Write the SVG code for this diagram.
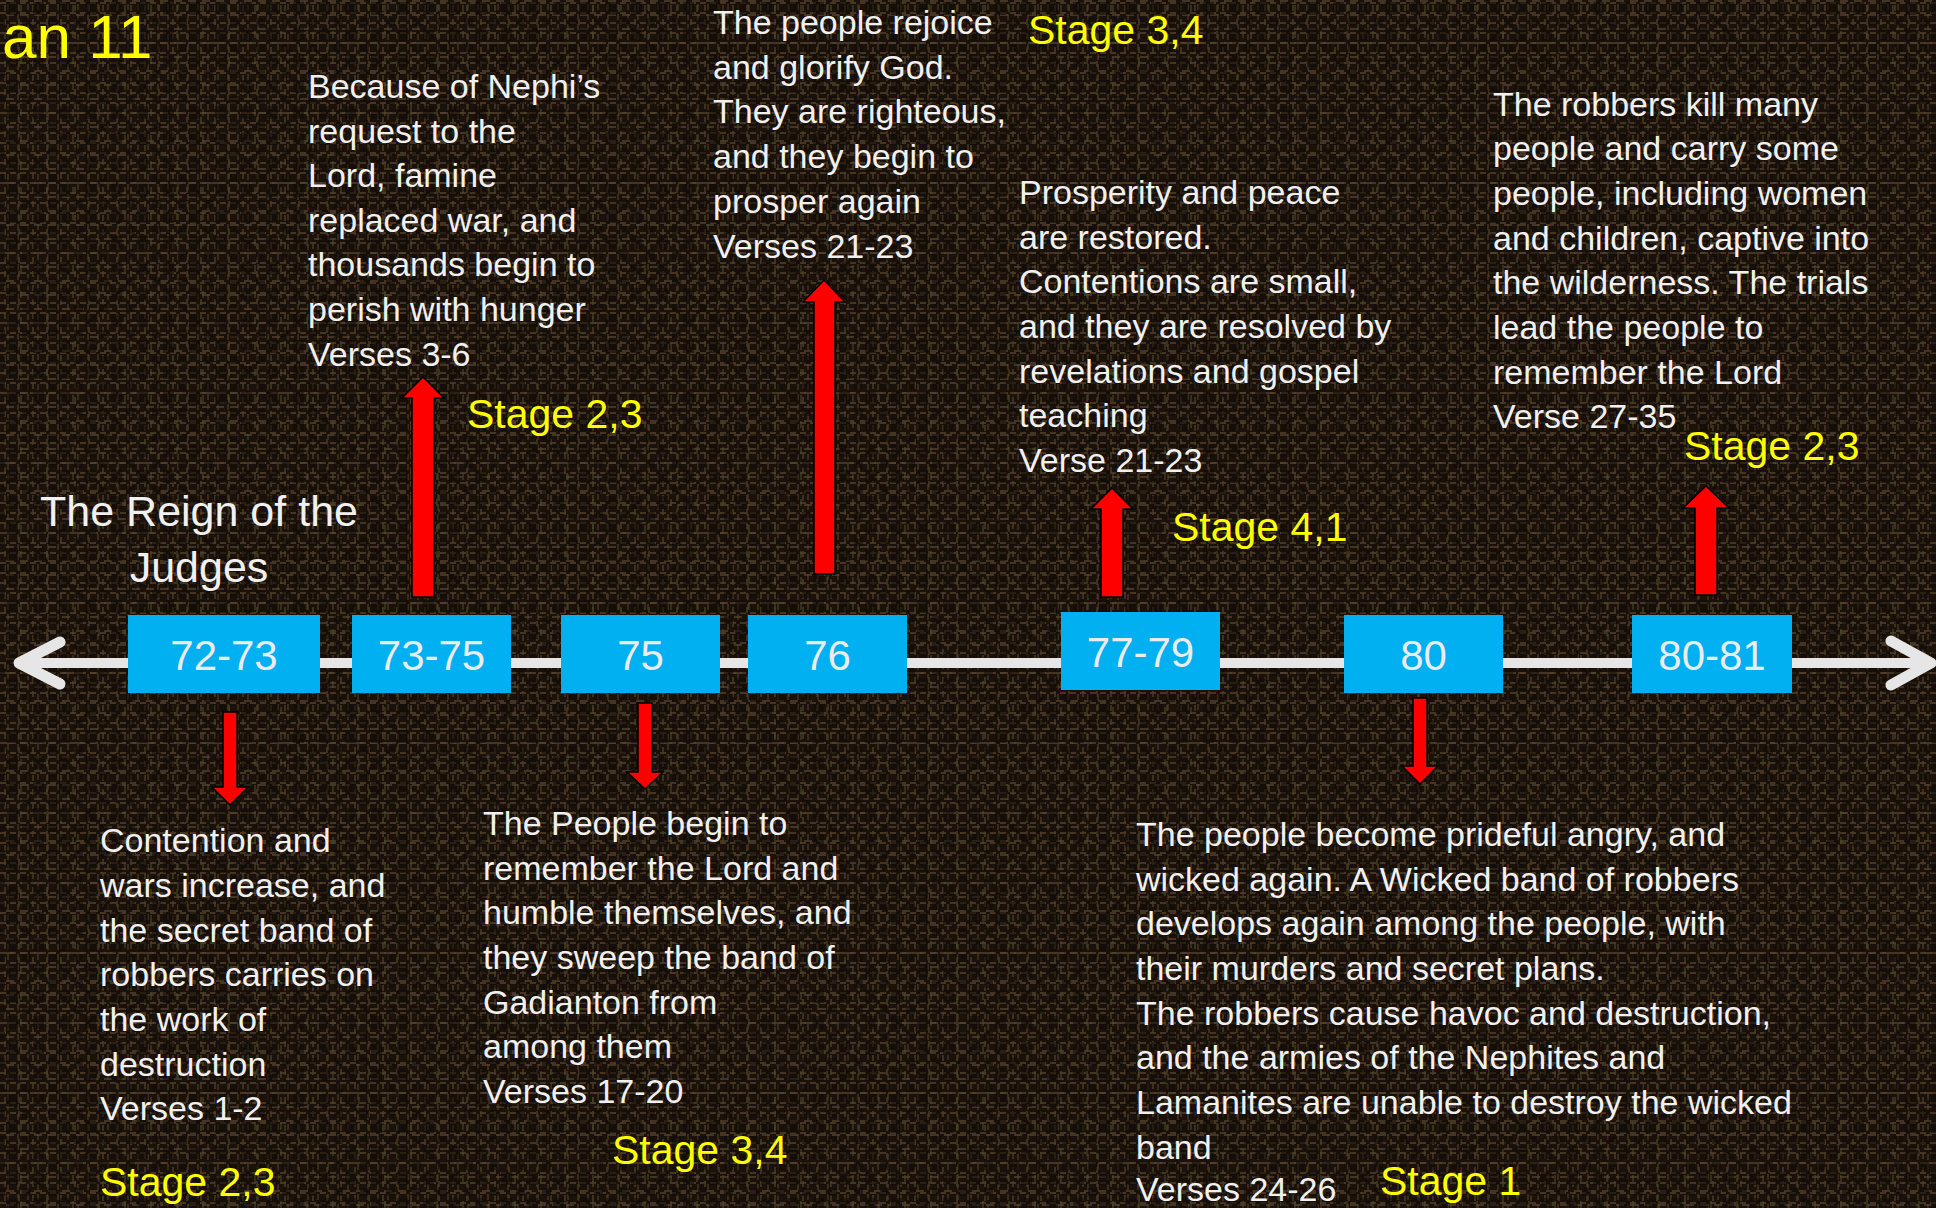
<svg xmlns="http://www.w3.org/2000/svg" width="1936" height="1208" viewBox="0 0 1936 1208">
<defs>
<pattern id="weaveA" x="0" y="0" width="10" height="10" patternUnits="userSpaceOnUse">
<rect width="10" height="10" fill="#1a110a"/>
<rect x="0" y="2" width="6" height="2" fill="#463523"/>
<rect x="7" y="4" width="2" height="6" fill="#3a2c1d"/>
</pattern>
<pattern id="weaveB" x="3" y="5" width="14" height="14" patternUnits="userSpaceOnUse">
<rect x="3" y="9" width="8" height="2" fill="#544530"/>
<rect x="1" y="0" width="2" height="6" fill="#4a3d26"/>
</pattern>
<pattern id="weaveC" x="7" y="2" width="26" height="26" patternUnits="userSpaceOnUse">
<rect x="0" y="0" width="11" height="13" fill="#0f0804"/>
<rect x="15" y="16" width="9" height="8" fill="#0f0804"/>
<rect x="13" y="3" width="2" height="7" fill="#4d4a2c"/>
</pattern>
</defs>
<style>
.w{font-family:"Liberation Sans",Arial,sans-serif;font-size:34px;fill:#f0f0f0}
.y{font-family:"Liberation Sans",Arial,sans-serif;font-size:41px;fill:#ffff00}
.box{fill:#00b0f0}
.bl{font-family:"Liberation Sans",Arial,sans-serif;font-size:42px;fill:#ececec;text-anchor:middle}
.arr{fill:#ff0000;stroke:#000000;stroke-width:1.5;stroke-linejoin:miter}
.tl{stroke:#e6e6e6;stroke-width:10;fill:none}
.tlh{stroke:#e6e6e6;stroke-width:11;fill:none;stroke-linecap:round;stroke-linejoin:round}
</style>
<rect width="1936" height="1208" fill="url(#weaveA)"/>
<rect width="1936" height="1208" fill="url(#weaveB)" opacity="0.7"/>
<rect width="1936" height="1208" fill="url(#weaveC)" opacity="0.5"/>

<g id="title">
<text x="2" y="58" style="font-family:'Liberation Sans',Arial,sans-serif;font-size:62px;fill:#ffff00">an 11</text>
</g>

<g id="connectors">
<line class="tl" x1="22" y1="663" x2="1928" y2="663"/>
<polyline class="tlh" points="60,642 19,663 60,684"/>
<polyline class="tlh" points="1891,641 1931,663 1891,685"/>
<path class="arr" d="M230,805 L248,787 L237,787 L237,712 L223,712 L223,787 L212,787 Z"/>
<path class="arr" d="M645,789 L663,772 L652,772 L652,703 L638,703 L638,772 L627,772 Z"/>
<path class="arr" d="M1420,784 L1438,766 L1427,766 L1427,698 L1413,698 L1413,766 L1402,766 Z"/>
<path class="arr" d="M423,377 L444,398 L434,398 L434,597 L412,597 L412,398 L402,398 Z"/>
<path class="arr" d="M824,280 L845,302 L835,302 L835,574 L814,574 L814,302 L803,302 Z"/>
<path class="arr" d="M1112,488 L1133,509 L1123,509 L1123,597 L1101,597 L1101,509 L1091,509 Z"/>
<path class="arr" d="M1706,486 L1729,508 L1717,508 L1717,595 L1695,595 L1695,508 L1683,508 Z"/>
</g>

<g id="node-72-73"><rect class="box" x="128" y="615" width="192" height="78"/><text class="bl" x="224" y="670">72-73</text></g>
<g id="node-73-75"><rect class="box" x="352" y="615" width="159" height="78"/><text class="bl" x="431.5" y="670">73-75</text></g>
<g id="node-75"><rect class="box" x="561" y="615" width="159" height="78"/><text class="bl" x="640.5" y="670">75</text></g>
<g id="node-76"><rect class="box" x="748" y="615" width="159" height="78"/><text class="bl" x="827.5" y="670">76</text></g>
<g id="node-77-79"><rect class="box" x="1061" y="612" width="159" height="78"/><text class="bl" x="1140.5" y="667">77-79</text></g>
<g id="node-80"><rect class="box" x="1344" y="615" width="159" height="78"/><text class="bl" x="1423.5" y="670">80</text></g>
<g id="node-80-81"><rect class="box" x="1632" y="615" width="160" height="78"/><text class="bl" x="1712" y="670">80-81</text></g>

<g id="reign">
<text style="font-family:'Liberation Sans',Arial,sans-serif;font-size:43px;fill:#f0f0f0" text-anchor="middle"><tspan x="199" y="526">The Reign of the</tspan><tspan x="199" y="582">Judges</tspan></text>
</g>

<g id="note-72-73">
<text class="w"><tspan x="100" y="852">Contention and</tspan><tspan x="100" y="897">wars increase, and</tspan><tspan x="100" y="942">the secret band of</tspan><tspan x="100" y="986">robbers carries on</tspan><tspan x="100" y="1031">the work of</tspan><tspan x="100" y="1076">destruction</tspan><tspan x="100" y="1120">Verses 1-2</tspan></text>
<text class="y" x="100" y="1196">Stage 2,3</text>
</g>

<g id="note-73-75">
<text class="w"><tspan x="308" y="98">Because of Nephi’s</tspan><tspan x="308" y="143">request to the</tspan><tspan x="308" y="187">Lord, famine</tspan><tspan x="308" y="232">replaced war, and</tspan><tspan x="308" y="276">thousands begin to</tspan><tspan x="308" y="321">perish with hunger</tspan><tspan x="308" y="366">Verses 3-6</tspan></text>
<text class="y" x="467" y="428">Stage 2,3</text>
</g>

<g id="note-75">
<text class="w"><tspan x="483" y="835">The People begin to</tspan><tspan x="483" y="880">remember the Lord and</tspan><tspan x="483" y="924">humble themselves, and</tspan><tspan x="483" y="969">they sweep the band of</tspan><tspan x="483" y="1014">Gadianton from</tspan><tspan x="483" y="1058">among them</tspan><tspan x="483" y="1103">Verses 17-20</tspan></text>
<text class="y" x="612" y="1164">Stage 3,4</text>
</g>

<g id="note-76">
<text class="w"><tspan x="713" y="34">The people rejoice</tspan><tspan x="713" y="79">and glorify God.</tspan><tspan x="713" y="123">They are righteous,</tspan><tspan x="713" y="168">and they begin to</tspan><tspan x="713" y="213">prosper again</tspan><tspan x="713" y="258">Verses 21-23</tspan></text>
<text class="y" x="1028" y="44">Stage 3,4</text>
</g>

<g id="note-77-79">
<text class="w"><tspan x="1019" y="204">Prosperity and peace</tspan><tspan x="1019" y="249">are restored.</tspan><tspan x="1019" y="293">Contentions are small,</tspan><tspan x="1019" y="338">and they are resolved by</tspan><tspan x="1019" y="383">revelations and gospel</tspan><tspan x="1019" y="427">teaching</tspan><tspan x="1019" y="472">Verse 21-23</tspan></text>
<text class="y" x="1172" y="541">Stage 4,1</text>
</g>

<g id="note-80">
<text class="w"><tspan x="1136" y="846">The people become prideful angry, and</tspan><tspan x="1136" y="891">wicked again. A Wicked band of robbers</tspan><tspan x="1136" y="935">develops again among the people, with</tspan><tspan x="1136" y="980">their murders and secret plans.</tspan><tspan x="1136" y="1025">The robbers cause havoc and destruction,</tspan><tspan x="1136" y="1069">and the armies of the Nephites and</tspan><tspan x="1136" y="1114">Lamanites are unable to destroy the wicked</tspan><tspan x="1136" y="1159">band</tspan><tspan x="1136" y="1201">Verses 24-26</tspan></text>
<text class="y" x="1380" y="1195">Stage 1</text>
</g>

<g id="note-80-81">
<text class="w"><tspan x="1493" y="116">The robbers kill many</tspan><tspan x="1493" y="160">people and carry some</tspan><tspan x="1493" y="205">people, including women</tspan><tspan x="1493" y="250">and children, captive into</tspan><tspan x="1493" y="294">the wilderness. The trials</tspan><tspan x="1493" y="339">lead the people to</tspan><tspan x="1493" y="384">remember the Lord</tspan><tspan x="1493" y="428">Verse 27-35</tspan></text>
<text class="y" x="1684" y="460">Stage 2,3</text>
</g>
</svg>
